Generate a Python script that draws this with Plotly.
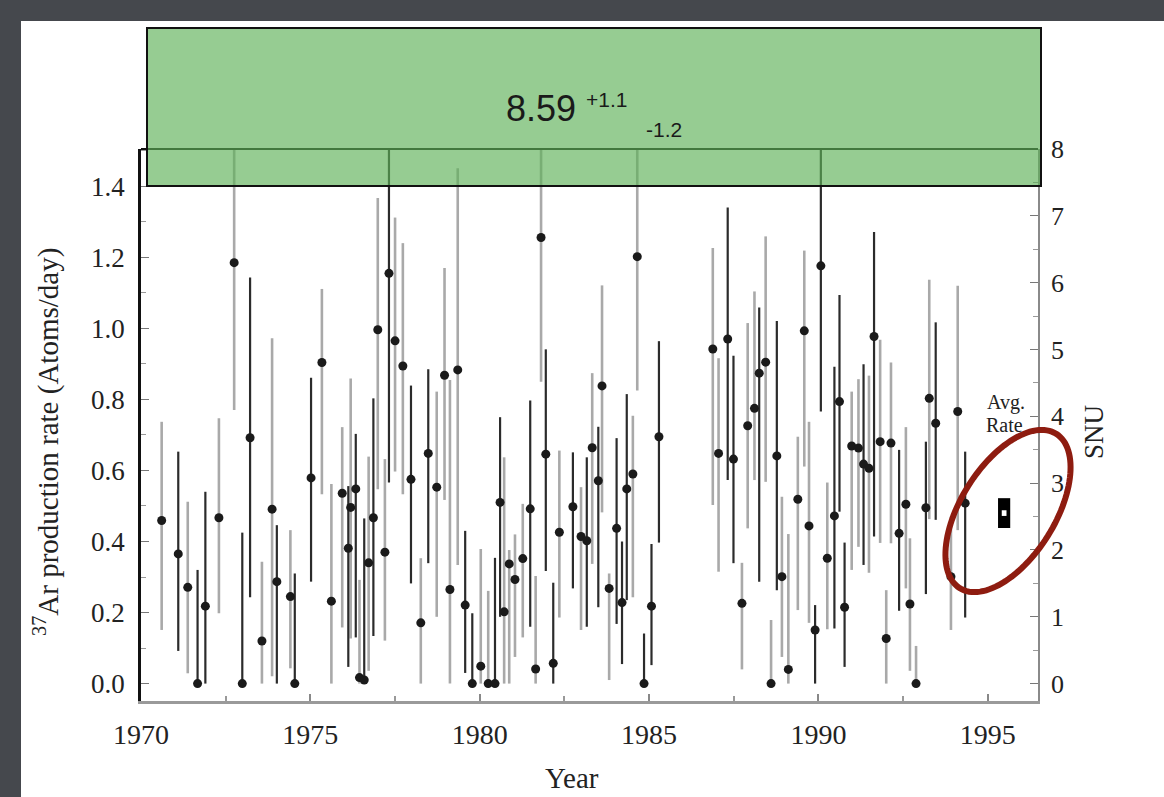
import numpy as np
import plotly.graph_objects as go

# ---------------- data ----------------
years = [1970.61, 1971.10, 1971.38, 1971.67, 1971.90, 1972.30, 1972.75, 1972.99, 1973.22, 1973.57,
         1973.87, 1974.01, 1974.41, 1974.54, 1975.02, 1975.34, 1975.62, 1975.94, 1976.12, 1976.19,
         1976.34, 1976.45, 1976.59, 1976.72, 1976.86, 1976.99, 1977.20, 1977.32, 1977.50, 1977.73,
         1977.97, 1978.26, 1978.48, 1978.73, 1978.96, 1979.12, 1979.35, 1979.57, 1979.78, 1980.03,
         1980.25, 1980.45, 1980.60, 1980.72, 1980.87, 1981.04, 1981.27, 1981.49, 1981.65, 1981.81,
         1981.95, 1982.17, 1982.35, 1982.75, 1982.99, 1983.16, 1983.32, 1983.50, 1983.61, 1983.82,
         1984.04, 1984.20, 1984.34, 1984.52, 1984.65, 1984.85, 1985.07, 1985.29, 1986.88, 1987.05,
         1987.32, 1987.49, 1987.74, 1987.91, 1988.11, 1988.25, 1988.44, 1988.60, 1988.77, 1988.92,
         1989.11, 1989.39, 1989.58, 1989.72, 1989.90, 1990.07, 1990.26, 1990.47, 1990.62, 1990.77,
         1990.98, 1991.18, 1991.33, 1991.49, 1991.64, 1991.82, 1992.00, 1992.14, 1992.38, 1992.58,
         1992.70, 1992.88, 1993.17, 1993.27, 1993.46, 1993.91, 1994.11, 1994.33]

rate = [0.459, 0.365, 0.271, 0.000, 0.218, 0.467, 1.185, 0.000, 0.692, 0.120,
        0.491, 0.287, 0.245, 0.000, 0.579, 0.904, 0.232, 0.536, 0.381, 0.496,
        0.548, 0.017, 0.010, 0.340, 0.467, 0.996, 0.370, 1.155, 0.965, 0.894,
        0.575, 0.171, 0.648, 0.553, 0.868, 0.265, 0.883, 0.221, 0.000, 0.049,
        0.000, 0.000, 0.510, 0.202, 0.337, 0.293, 0.352, 0.492, 0.041, 1.256,
        0.646, 0.057, 0.426, 0.498, 0.414, 0.402, 0.664, 0.571, 0.838, 0.268,
        0.437, 0.228, 0.548, 0.590, 1.202, 0.000, 0.218, 0.695, 0.942, 0.648,
        0.970, 0.632, 0.226, 0.726, 0.775, 0.874, 0.905, 0.000, 0.641, 0.301,
        0.040, 0.519, 0.993, 0.444, 0.151, 1.176, 0.353, 0.472, 0.794, 0.215,
        0.669, 0.663, 0.618, 0.606, 0.977, 0.681, 0.127, 0.677, 0.423, 0.505,
        0.224, 0.000, 0.495, 0.803, 0.733, 0.301, 0.766, 0.508]

# upper end of each error bar (1.60 = runs off the top of the frame)
upper = [0.737, 0.653, 0.512, 0.320, 0.540, 0.747, 1.600, 0.425, 1.143, 0.343,
         0.972, 0.446, 0.432, 0.310, 0.861, 1.111, 0.562, 0.722, 0.556, 0.859,
         0.703, 0.292, 0.465, 0.639, 0.803, 1.367, 0.632, 1.600, 1.312, 1.240,
         0.839, 0.353, 0.885, 0.822, 1.170, 0.855, 1.451, 0.430, 0.198, 0.379,
         0.261, 0.354, 0.750, 0.637, 0.376, 0.420, 0.506, 0.797, 0.303, 1.600,
         0.941, 0.284, 0.656, 0.651, 0.553, 0.637, 0.874, 0.723, 1.121, 0.310,
         0.691, 0.400, 0.815, 0.754, 1.600, 0.141, 0.393, 0.964, 1.226, 0.916,
         1.340, 0.923, 0.340, 1.015, 1.104, 1.059, 1.259, 0.179, 1.021, 0.526,
         0.421, 0.695, 1.219, 0.737, 0.221, 1.600, 0.566, 0.892, 1.094, 0.397,
         0.822, 0.857, 0.899, 0.867, 1.271, 0.968, 0.263, 0.904, 0.658, 0.722,
         0.409, 0.106, 0.681, 1.137, 1.017, 0.470, 1.120, 0.653]

# lower end of each error bar
lower = [0.151, 0.092, 0.029, 0.000, 0.000, 0.198, 0.770, 0.000, 0.243, 0.000,
         0.021, 0.000, 0.043, 0.000, 0.287, 0.533, 0.000, 0.158, 0.047, 0.127,
         0.130, 0.000, 0.000, 0.036, 0.134, 0.547, 0.121, 0.566, 0.597, 0.533,
         0.282, 0.000, 0.339, 0.188, 0.517, 0.000, 0.334, 0.030, 0.000, 0.000,
         0.000, 0.000, 0.188, 0.000, 0.000, 0.075, 0.130, 0.160, 0.000, 0.850,
         0.317, 0.000, 0.186, 0.268, 0.151, 0.160, 0.337, 0.215, 0.482, 0.010,
         0.168, 0.055, 0.235, 0.243, 0.825, 0.000, 0.052, 0.397, 0.503, 0.315,
         0.573, 0.339, 0.040, 0.437, 0.573, 0.287, 0.568, 0.000, 0.263, 0.075,
         0.000, 0.207, 0.611, 0.171, 0.000, 0.766, 0.153, 0.155, 0.484, 0.047,
         0.320, 0.385, 0.334, 0.312, 0.414, 0.396, 0.000, 0.395, 0.205, 0.268,
         0.036, 0.000, 0.252, 0.463, 0.461, 0.151, 0.432, 0.186]

# error-bar tone used for each run (g = grey, k = black)
tone = ["g", "k", "g", "k", "k", "g", "g", "k", "k", "g",
        "g", "k", "g", "k", "k", "g", "g", "g", "k", "g",
        "k", "g", "k", "g", "k", "g", "g", "k", "g", "g",
        "k", "g", "k", "g", "g", "g", "g", "k", "k", "g",
        "g", "k", "k", "g", "g", "g", "g", "k", "g", "g",
        "k", "k", "g", "k", "g", "k", "g", "k", "g", "g",
        "k", "k", "k", "g", "g", "k", "k", "k", "g", "g",
        "k", "k", "g", "g", "g", "k", "g", "g", "k", "g",
        "g", "g", "g", "g", "k", "k", "g", "k", "k", "k",
        "g", "g", "k", "g", "k", "g", "g", "g", "k", "g",
        "g", "g", "k", "g", "k", "g", "g", "k"]

x_ticks = [1970, 1975, 1980, 1985, 1990, 1995]
rate_ticks = [0.0, 0.2, 0.4, 0.6, 0.8, 1.0, 1.2, 1.4]
snu_ticks = [0, 1, 2, 3, 4, 5, 6, 7, 8]

avg_year = 1995.48
avg_rate = 0.480
avg_err = 0.042

headline_value = "8.59"
headline_plus = "+1.1"
headline_minus = "-1.2"

# ---------------- layout geometry ----------------
W_FIG, H_FIG = 1164, 797
L, R, T, B = 141, 1038, 149, 701
PW, PH = R - L, B - T

def px(x):
    return (x - L) / PW

def py(y):
    return (B - y) / PH

RATE_MAX = 1.505
RATE_MIN = -0.049
SNU_PER_RATE = 8.0 / RATE_MAX
X_MIN, X_MAX = 1970.0, 1996.48

SERIF = "Liberation Serif, Times New Roman, serif"
SANS = "Liberation Sans, Arial, sans-serif"

fig = go.Figure()

colors = {"g": "#a9a9a9", "k": "#2b2b2b"}
widths = {"g": 2.6, "k": 2.2}
for tn in ["g", "k"]:
    idx = [i for i, v in enumerate(tone) if v == tn]
    xs = [years[i] for i in idx]
    ys = [rate[i] for i in idx]
    plus = [upper[i] - rate[i] for i in idx]
    minus = [rate[i] - lower[i] for i in idx]
    fig.add_trace(go.Scatter(
        x=xs, y=ys, mode="markers",
        marker=dict(size=1, color="rgba(0,0,0,0)"),
        error_y=dict(type="data", symmetric=False, array=plus, arrayminus=minus,
                     color=colors[tn], thickness=widths[tn], width=0),
        showlegend=False, hoverinfo="skip"))

fig.add_trace(go.Scatter(
    x=years, y=rate, mode="markers",
    marker=dict(size=9, color="#1a1a1a"),
    showlegend=False))

# invisible trace to activate right axis
fig.add_trace(go.Scatter(x=[X_MIN], y=[0], yaxis="y2", mode="markers",
                         marker=dict(size=1, color="rgba(0,0,0,0)"),
                         showlegend=False, hoverinfo="skip"))

shapes = []
# white slide panel
shapes.append(dict(type="rect", xref="paper", yref="paper", layer="below",
                   x0=px(21), x1=px(1170), y0=py(21), y1=py(805),
                   fillcolor="white", line=dict(width=0)))
# average-rate box
shapes.append(dict(type="rect", xref="x", yref="y", layer="above",
                   x0=avg_year - 0.18, x1=avg_year + 0.18,
                   y0=avg_rate - avg_err, y1=avg_rate + avg_err,
                   fillcolor="black", line=dict(width=0)))
shapes.append(dict(type="rect", xref="x", yref="y", layer="above",
                   x0=avg_year - 0.07, x1=avg_year + 0.07,
                   y0=avg_rate - 0.008, y1=avg_rate + 0.008,
                   fillcolor="white", line=dict(width=0)))
# top frame line
shapes.append(dict(type="line", xref="paper", yref="paper", layer="above",
                   x0=0, x1=1, y0=1, y1=1, line=dict(color="#111", width=2)))
# green banner
shapes.append(dict(type="rect", xref="paper", yref="paper", layer="above",
                   x0=px(147), x1=px(1041), y0=py(186), y1=py(28),
                   fillcolor="rgb(94,177,88)", opacity=0.65, line=dict(width=0)))
shapes.append(dict(type="rect", xref="paper", yref="paper", layer="above",
                   x0=px(147), x1=px(1041), y0=py(186), y1=py(28),
                   fillcolor="rgba(0,0,0,0)", line=dict(color="#111", width=2)))

# red highlight ellipse (pixel geometry)
cx, cy, a, b, phi = 1008, 511, 91, 47, np.deg2rad(58)
tt = np.linspace(0, 2 * np.pi, 121)
ux, uy = np.cos(phi), -np.sin(phi)
vx, vy = np.sin(phi), np.cos(phi)
ex = cx + a * np.cos(tt) * ux + b * np.sin(tt) * vx
ey = cy + a * np.cos(tt) * uy + b * np.sin(tt) * vy
path = "M " + " L ".join(f"{px(X):.5f},{py(Y):.5f}" for X, Y in zip(ex, ey)) + " Z"
shapes.append(dict(type="path", xref="paper", yref="paper", layer="above",
                   path=path, line=dict(color="#8e1c10", width=6),
                   fillcolor="rgba(0,0,0,0)"))

annotations = [
    dict(text="<sup>37</sup>Ar production rate (Atoms/day)", xref="paper", yref="paper",
         x=px(46), y=py(442), textangle=-90, showarrow=False,
         font=dict(family=SERIF, size=29, color="#222"), xanchor="center", yanchor="middle"),
    dict(text="SNU", xref="paper", yref="paper", x=px(1094), y=py(432), textangle=-90,
         showarrow=False, font=dict(family=SERIF, size=27, color="#222"),
         xanchor="center", yanchor="middle"),
    dict(text="Year", xref="paper", yref="paper", x=px(572), y=py(778), showarrow=False,
         font=dict(family=SERIF, size=29, color="#222"), xanchor="center", yanchor="middle"),
    dict(text="Avg.", xref="paper", yref="paper", x=px(1006), y=py(402), showarrow=False,
         font=dict(family=SERIF, size=20, color="#222"), xanchor="center", yanchor="middle"),
    dict(text="Rate", xref="paper", yref="paper", x=px(1004), y=py(425), showarrow=False,
         font=dict(family=SERIF, size=20, color="#222"), xanchor="center", yanchor="middle"),
    dict(text=headline_value, xref="paper", yref="paper", x=px(541), y=py(108), showarrow=False,
         font=dict(family=SANS, size=36, color="#1a1a1a"), xanchor="center", yanchor="middle"),
    dict(text=headline_plus, xref="paper", yref="paper", x=px(606), y=py(100), showarrow=False,
         font=dict(family=SANS, size=21, color="#1a1a1a"), xanchor="center", yanchor="middle"),
    dict(text=headline_minus, xref="paper", yref="paper", x=px(664), y=py(130), showarrow=False,
         font=dict(family=SANS, size=21, color="#1a1a1a"), xanchor="center", yanchor="middle"),
]

fig.update_layout(
    width=W_FIG, height=H_FIG, autosize=False,
    margin=dict(l=L, r=W_FIG - R, t=T, b=H_FIG - B, pad=0),
    paper_bgcolor="#45484d", plot_bgcolor="rgba(0,0,0,0)",
    showlegend=False, shapes=shapes, annotations=annotations,
    xaxis=dict(range=[X_MIN, X_MAX], tickvals=x_ticks, ticks="inside", ticklen=7,
               tickcolor="#888", tickwidth=1.5, showgrid=False, zeroline=False,
               showline=True, linecolor="#9a9a9a", linewidth=3,
               minor=dict(ticks="inside", dtick=2.5, tick0=1970, ticklen=5, tickcolor="#999"),
               tickfont=dict(family=SERIF, size=28, color="#222"), ticklabelstandoff=6),
    yaxis=dict(range=[RATE_MIN, RATE_MAX], tickvals=rate_ticks, tickformat=".1f",
               ticks="inside", ticklen=8, tickcolor="#777", tickwidth=1.2,
               showgrid=False, zeroline=False, showline=True, linecolor="#111", linewidth=2.5,
               minor=dict(ticks="inside", dtick=0.1, tick0=0, ticklen=5, tickcolor="#999"),
               tickfont=dict(family=SERIF, size=27, color="#222"), ticklabelstandoff=8),
    yaxis2=dict(range=[RATE_MIN * SNU_PER_RATE, 8.0001], tickvals=snu_ticks, overlaying="y",
                side="right", ticks="inside", ticklen=8, tickcolor="#777", tickwidth=1.2,
                showgrid=False, zeroline=False, showline=True, linecolor="#8a8a8a", linewidth=1.5,
                minor=dict(ticks="inside", dtick=0.5, tick0=0, ticklen=5, tickcolor="#999"),
                tickfont=dict(family=SERIF, size=26, color="#222"), ticklabelstandoff=6),
)

fig.write_html("out.html", config={"displayModeBar": False},
               post_script="document.body.style.margin='0px';document.body.style.overflow='hidden';")
